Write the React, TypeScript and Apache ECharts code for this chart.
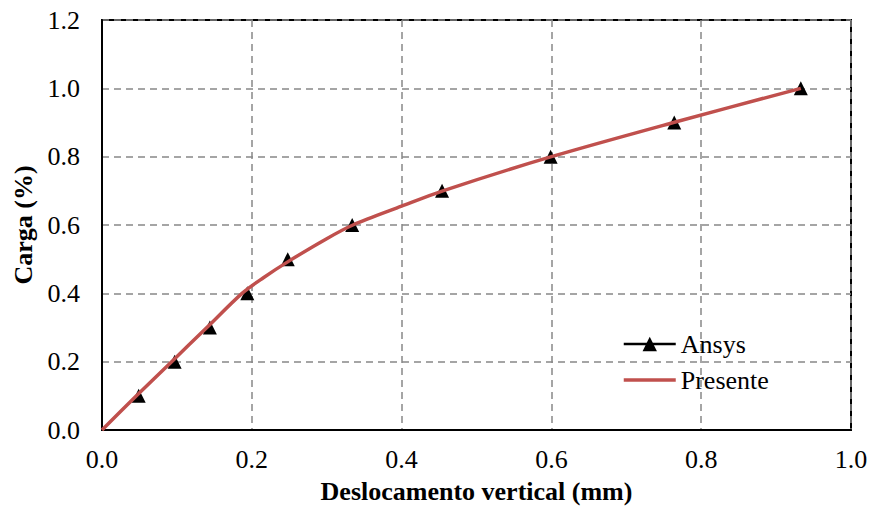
import React, { useEffect, useRef } from "react";
import * as echarts from "echarts";

const ansysX = [0.049, 0.097, 0.144, 0.194, 0.248, 0.334, 0.454, 0.599, 0.764, 0.933];
const ansysY = [0.1, 0.2, 0.3, 0.4, 0.5, 0.6, 0.7, 0.8, 0.9, 1.0];
const presenteX = [0, 0.046, 0.093, 0.14, 0.187, 0.215, 0.25, 0.3, 0.335, 0.4, 0.455, 0.6, 0.763, 0.933];
const presenteY = [0, 0.1, 0.2, 0.3, 0.4, 0.445, 0.495, 0.56, 0.6, 0.655, 0.7, 0.8, 0.9, 1.0];

const FONT = "Times New Roman, Liberation Serif, DejaVu Serif, serif";

export default function App() {
  const ref = useRef<HTMLDivElement>(null);
  useEffect(() => {
    const chart = echarts.init(ref.current!, null, { renderer: "svg" });
    chart.setOption({
      animation: false,
      textStyle: { fontFamily: FONT },
      grid: {
        left: 102, right: 22, top: 20, bottom: 79,
        show: true, borderColor: "#000", borderWidth: 2,
      },
      legend: {
        left: 622, top: 331, orient: "vertical", itemGap: 10,
        itemWidth: 52, itemHeight: 18, padding: 0,
        textStyle: { fontFamily: FONT, fontSize: 26, color: "#000" },
        data: [
          { name: "Ansys", lineStyle: { width: 2.5, color: "#000", opacity: 1 } },
          { name: "Presente", itemStyle: { opacity: 0 }, lineStyle: { width: 3.5, color: "#c0504d" } },
        ],
      },
      xAxis: {
        type: "value", min: 0, max: 1, interval: 0.2,
        name: "Deslocamento vertical (mm)", nameLocation: "middle", nameGap: 48,
        nameTextStyle: { fontFamily: FONT, fontSize: 26, fontWeight: "bold", color: "#000" },
        axisLine: { lineStyle: { color: "#000", width: 2 } },
        axisTick: { show: false },
        axisLabel: { fontFamily: FONT, fontSize: 26, color: "#000", margin: 16,
          formatter: (v: number) => v.toFixed(1) },
        splitLine: { lineStyle: { color: "#888", type: [7, 5], width: 1.5 } },
      },
      yAxis: {
        type: "value", min: 0, max: 1.2, interval: 0.2,
        name: "Carga (%)", nameLocation: "middle", nameGap: 64,
        nameTextStyle: { fontFamily: FONT, fontSize: 26, fontWeight: "bold", color: "#000" },
        axisLine: { lineStyle: { color: "#000", width: 2 } },
        axisTick: { show: false },
        axisLabel: { fontFamily: FONT, fontSize: 26, color: "#000", margin: 22,
          formatter: (v: number) => v.toFixed(1) },
        splitLine: { lineStyle: { color: "#888", type: [7, 5], width: 1.5 } },
      },
      series: [
        {
          name: "Ansys", type: "line",
          data: ansysX.map((x, i) => [x, ansysY[i]]),
          symbol: "triangle", symbolSize: [14, 14],
          itemStyle: { color: "#000" },
          lineStyle: { width: 2, color: "#000", opacity: 0 },
          z: 2,
        },
        {
          name: "Presente", type: "line", smooth: 0.3,
          data: presenteX.map((x, i) => [x, presenteY[i]]),
          showSymbol: false, symbol: "none",
          itemStyle: { color: "#c0504d" },
          lineStyle: { width: 3.5, color: "#c0504d" },
          z: 3,
        },
      ],
    });
    return () => chart.dispose();
  }, []);
  return <div ref={ref} style={{ width: 873, height: 509, position: "absolute", left: 0, top: 0 }} />;
}
